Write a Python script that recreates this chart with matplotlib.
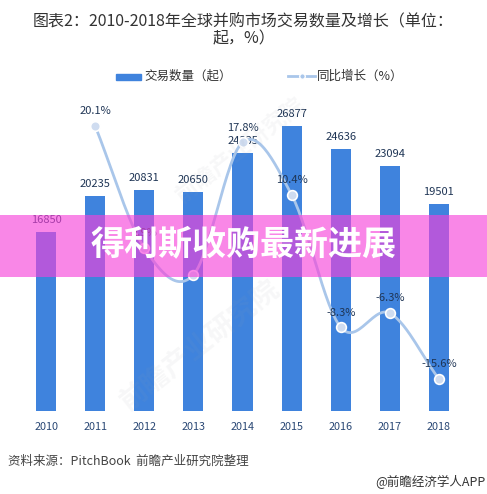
import numpy as np
import matplotlib
matplotlib.use("Agg")
import matplotlib.pyplot as plt
from matplotlib.patches import Rectangle
from matplotlib.lines import Line2D

plt.rcParams['font.family'] = ['Noto Sans CJK SC', 'DejaVu Sans']

years = ["2010", "2011", "2012", "2013", "2014", "2015", "2016", "2017", "2018"]
deals = [16850, 20235, 20831, 20650, 24335, 26877, 24636, 23094, 19501]
growth_years = ["2011", "2012", "2013", "2014", "2015", "2016", "2017", "2018"]
growth = [20.1, 2.9, -0.9, 17.8, 10.4, -8.3, -6.3, -15.6]
growth_labels = ["20.1%", "2.9%", "", "17.8%", "10.4%", "-8.3%", "-6.3%", "-15.6%"]

W, H = 487, 494
fig = plt.figure(figsize=(W / 100, H / 100), dpi=100)
fig.patch.set_facecolor("white")

def fx(px):
    return px / W

def fy(py):
    return 1 - py / H

ax_left, ax_right, ax_top, ax_bot = 21.5, 463.5, 100, 411
ax = fig.add_axes([fx(ax_left), fy(ax_bot), fx(ax_right - ax_left), (ax_bot - ax_top) / H])
ax2 = ax.twinx()
ax2.set_position(ax.get_position())

bar_color = "#3f83dd"
x = np.arange(len(years))
ax.bar(x, deals, width=0.41, color=bar_color, zorder=2)
ax.set_xlim(-0.5, len(years) - 0.5)
ax.set_ylim(0, 29284)
for xi, v in zip(x, deals):
    ax.annotate(str(v), (xi, v), xytext=(0, 5), textcoords="offset points",
                ha="center", va="bottom", fontsize=8, color="#1f3555")

ax.set_xticks(x)
ax.set_xticklabels(years, fontsize=7.8, color="#2a4875")
ax.tick_params(axis="x", length=0, pad=8)
ax.set_yticks([])
for a in (ax, ax2):
    for s in a.spines.values():
        s.set_visible(False)
ax2.set_yticks([])
ax2.set_ylim(-20.1, 23.77)

# smooth line (Catmull-Rom through the points)
gx = np.array([years.index(y) for y in growth_years], dtype=float)
gy = np.array(growth, dtype=float)
P = np.column_stack([gx, gy])
Pext = np.vstack([2 * P[0] - P[1], P, 2 * P[-1] - P[-2]])
curve = []
t = np.linspace(0, 1, 30)
for i in range(1, len(Pext) - 2):
    p0, p1, p2, p3 = Pext[i - 1], Pext[i], Pext[i + 1], Pext[i + 2]
    tt = t[:, None]
    seg = 0.5 * ((2 * p1) + (-p0 + p2) * tt + (2 * p0 - 5 * p1 + 4 * p2 - p3) * tt ** 2
                 + (-p0 + 3 * p1 - 3 * p2 + p3) * tt ** 3)
    curve.append(seg)
curve = np.vstack(curve)
line_color = "#a9c6ea"
ax2.plot(curve[:, 0], curve[:, 1], color=line_color, lw=2, zorder=3, solid_capstyle="round")
ax2.plot(gx, gy, "o", ms=7, mfc="#cfdcf0", mec="white", mew=1.2, zorder=4)
for xi, v, lab in zip(gx, gy, growth_labels):
    if lab:
        ax2.annotate(lab, (xi, v), xytext=(0, 7), textcoords="offset points",
                     ha="center", va="bottom", fontsize=8, color="#1f3555", zorder=5)

# faint watermarks
for (wx, wy, sz) in [(200, 345, 20), (240, 150, 16)]:
    fig.text(fx(wx), fy(wy), "前瞻产业研究院", fontsize=sz, color="#9aa0a8", alpha=0.08,
             rotation=38, ha="center", va="center", fontweight="bold")

# title
fig.text(0.5, fy(22), "图表2：2010-2018年全球并购市场交易数量及增长（单位：", ha="center", va="center",
         fontsize=11.5, color="#333333")
fig.text(0.5, fy(39), "起，%）", ha="center", va="center", fontsize=11.5, color="#333333")

# legend
fig.patches.append(Rectangle((fx(116), fy(80)), fx(25), 6 / H, color=bar_color, transform=fig.transFigure))
fig.text(fx(144), fy(76), "交易数量（起）", ha="left", va="center", fontsize=9, color="#333333")
fig.lines.append(Line2D([fx(288), fx(315)], [fy(76), fy(76)], color=line_color, lw=2, transform=fig.transFigure))
fig.lines.append(Line2D([fx(301.5)], [fy(76)], marker="o", ms=4, mfc="#a9c6ea", mec="white",
                        transform=fig.transFigure))
fig.text(fx(317), fy(76), "同比增长（%）", ha="left", va="center", fontsize=9, color="#333333")

# source / credit
fig.text(fx(8), fy(461), "资料来源：PitchBook  前瞻产业研究院整理", ha="left", va="center",
         fontsize=9, color="#444444", style="italic")
fig.text(fx(485), fy(482), "@前瞻经济学人APP", ha="right", va="center", fontsize=9, color="#333333")

# banner overlay
fig.patches.append(Rectangle((0, fy(277)), 1, 62 / H, facecolor="#f741da", alpha=0.63,
                             transform=fig.transFigure, zorder=10))
fig.text(0.5, fy(244), "得利斯收购最新进展", ha="center", va="center", fontsize=24.5,
         fontweight="bold", color="white", zorder=11)

fig.savefig("out.png", dpi=100)
